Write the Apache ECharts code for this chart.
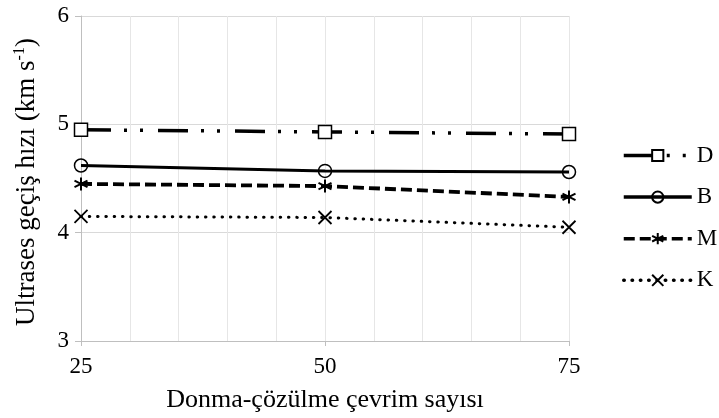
<!DOCTYPE html>
<html><head><meta charset="utf-8">
<script src="https://cdn.jsdelivr.net/npm/echarts@6/dist/echarts.min.js"></script>
<style>html,body{margin:0;padding:0;background:#fff}#c{width:719px;height:418px}</style>
</head><body><div id="c"></div>
<script>
var cycles = [25, 50, 75];
var seriesNames = ['D', 'B', 'M', 'K'];
var D = [4.95, 4.93, 4.91];
var B = [4.62, 4.57, 4.56];
var M = [4.45, 4.43, 4.33];
var K = [4.15, 4.14, 4.05];
var xTicks = [25, 50, 75];
var yTicks = [3, 4, 5, 6];

function pts(v){ return cycles.map(function(c,i){ return [c, v[i]]; }); }
var FONT = 'Liberation Serif';
var chart = echarts.init(document.getElementById('c'));
var star = 'path://M5,0L5,10M0.7,2.5L9.3,7.5M0.7,7.5L9.3,2.5';
var cross = 'path://M0,0L10,10M10,0L0,10';
chart.setOption({
  animation: false,
  color: ['#000'],
  grid: {left: 81, right: 150, top: 16, bottom: 77},
  legend: {
    orient: 'vertical', left: 622, top: 144, padding: 0, itemWidth: 68, itemHeight: 14, itemGap: 18.6,
    textStyle: {fontFamily: FONT, fontSize: 23, color: '#000'},
    lineStyle: {width: 3.5},
    data: seriesNames
  },
  xAxis: [{
    type: 'value', min: xTicks[0], max: xTicks[2], interval: 25,
    axisLine: {show: true, lineStyle: {color: '#bfbfbf', width: 1}},
    axisTick: {show: true, length: 5, lineStyle: {color: '#bfbfbf'}},
    splitLine: {show: false},
    axisLabel: {fontFamily: FONT, fontSize: 23, color: '#000', margin: 14},
    name: 'Donma-çözülme çevrim sayısı', nameLocation: 'middle', nameGap: 46,
    nameTextStyle: {fontFamily: FONT, fontSize: 26, color: '#000'}
  }, {
    type: 'value', min: 25, max: 75, interval: 5, position: 'bottom',
    axisLine: {show: false}, axisTick: {show: false}, axisLabel: {show: false},
    splitLine: {show: true, lineStyle: {color: '#e6e6e6', width: 1}}
  }],
  yAxis: {
    type: 'value', min: yTicks[0], max: yTicks[3], interval: 1,
    axisLine: {show: true, lineStyle: {color: '#bfbfbf', width: 1}},
    axisTick: {show: true, length: 6, lineStyle: {color: '#bfbfbf'}},
    splitLine: {show: true, lineStyle: {color: '#d9d9d9', width: 1}},
    axisLabel: {fontFamily: FONT, fontSize: 23, color: '#000', margin: 12},
    name: 'Ultrases geçiş hızı (km s{sup|-1})', nameLocation: 'middle', nameGap: 40,
    nameTextStyle: {fontFamily: FONT, fontSize: 27, color: '#000', padding: [0, 7, 0, 0],
      rich: {sup: {fontFamily: FONT, fontSize: 16, color: '#000', verticalAlign: 'top', lineHeight: 29}}}
  },
  series: [
    {name: 'D', type: 'line', data: pts(D), symbol: 'rect', symbolSize: 13,
     itemStyle: {color: '#fff', borderColor: '#000', borderWidth: 1.5},
     lineStyle: {color: '#000', width: 3.5, type: [30, 13, 3, 13, 3, 15], cap: 'butt'}, z: 5},
    {name: 'B', type: 'line', data: pts(B), symbol: 'circle', symbolSize: 13,
     itemStyle: {color: 'rgba(255,255,255,0)', borderColor: '#000', borderWidth: 1.5},
     lineStyle: {color: '#000', width: 3, type: 'solid'}, z: 5},
    {name: 'M', type: 'line', data: pts(M), symbol: star, symbolSize: 13,
     itemStyle: {color: 'none', borderColor: '#000', borderWidth: 2},
     lineStyle: {color: '#000', width: 3.8, type: [11, 5]}, z: 5},
    {name: 'K', type: 'line', data: pts(K), symbol: cross, symbolSize: 13,
     itemStyle: {color: 'none', borderColor: '#000', borderWidth: 1.8},
     lineStyle: {color: '#000', width: 3, type: [0.5, 7.8], cap: 'round'}, z: 5}
  ]
});
</script></body></html>
